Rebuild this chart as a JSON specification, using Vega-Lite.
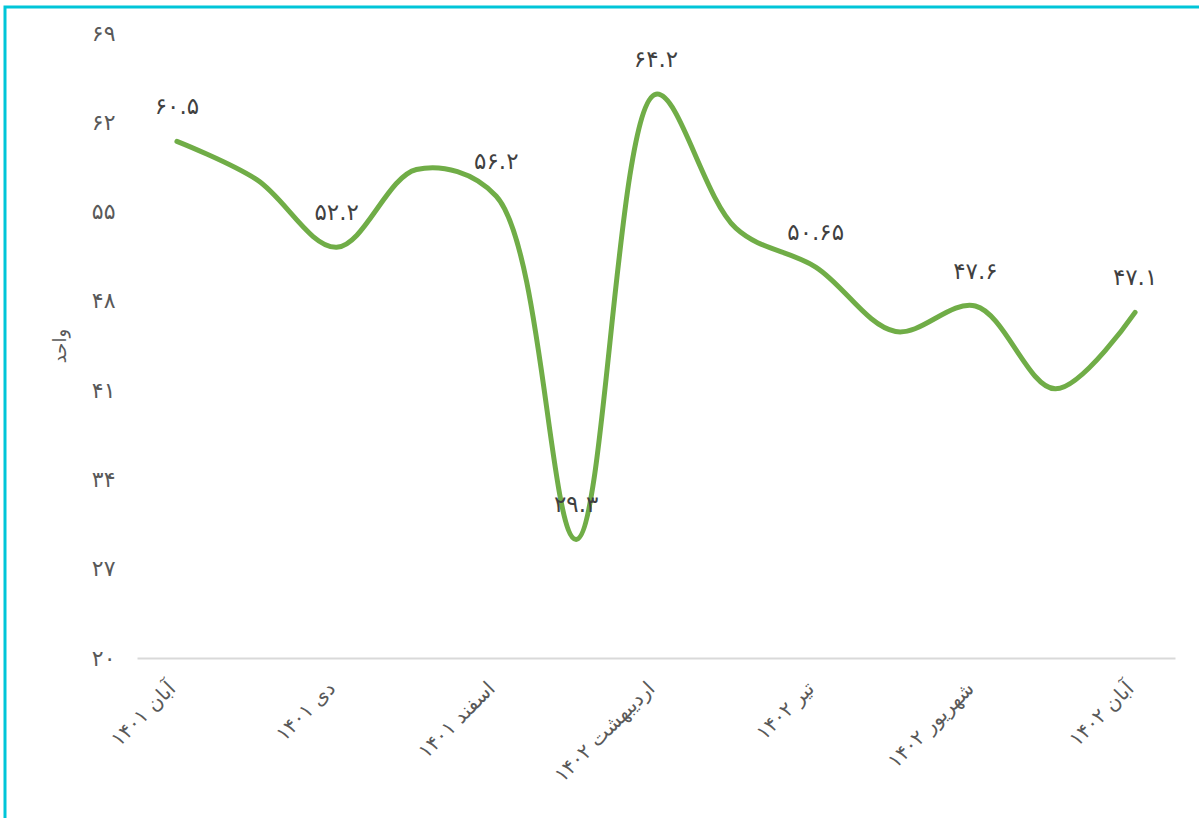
{
  "$schema": "https://vega.github.io/schema/vega-lite/v6.json",
  "width": 1200,
  "height": 820,
  "autosize": {"type": "none"},
  "padding": {"left": 5, "top": 7, "right": 0, "bottom": 0},
  "background": "white",
  "config": {
    "view": {"stroke": "#00c5d8", "strokeWidth": 3},
    "font": "DejaVu Sans"
  },
  "data": {
    "values": [
      {"month": "آبان ۱۴۰۱", "value": 60.5, "label": "۶۰.۵"},
      {"month": "آذر ۱۴۰۱", "value": 57.5, "label": null},
      {"month": "دی ۱۴۰۱", "value": 52.2, "label": "۵۲.۲"},
      {"month": "بهمن ۱۴۰۱", "value": 58.3, "label": null},
      {"month": "اسفند ۱۴۰۱", "value": 56.2, "label": "۵۶.۲"},
      {"month": "فروردین ۱۴۰۲", "value": 29.3, "label": "۲۹.۳"},
      {"month": "اردیبهشت ۱۴۰۲", "value": 64.2, "label": "۶۴.۲"},
      {"month": "خرداد ۱۴۰۲", "value": 53.7, "label": null},
      {"month": "تیر ۱۴۰۲", "value": 50.65, "label": "۵۰.۶۵"},
      {"month": "مرداد ۱۴۰۲", "value": 45.6, "label": null},
      {"month": "شهریور ۱۴۰۲", "value": 47.6, "label": "۴۷.۶"},
      {"month": "مهر ۱۴۰۲", "value": 41.1, "label": null},
      {"month": "آبان ۱۴۰۲", "value": 47.1, "label": "۴۷.۱"}
    ]
  },
  "encoding": {
    "x": {
      "field": "month",
      "type": "ordinal",
      "sort": null,
      "scale": {"type": "point", "range": [132, 1170], "padding": 0.5},
      "axis": {
        "title": null,
        "orient": "bottom",
        "offset": -169,
        "values": ["آبان ۱۴۰۱", "دی ۱۴۰۱", "اسفند ۱۴۰۱", "اردیبهشت ۱۴۰۲", "تیر ۱۴۰۲", "شهریور ۱۴۰۲", "آبان ۱۴۰۲"],
        "labelAngle": -45,
        "labelFontSize": 20,
        "labelColor": "#595959",
        "labelPadding": 20,
        "labelOffset": -12,
        "labelOverlap": false,
        "ticks": false,
        "domainColor": "#d9d9d9",
        "domainWidth": 2,
        "grid": false
      }
    },
    "y": {
      "field": "value",
      "type": "quantitative",
      "scale": {"domain": [20, 69], "range": [651, 26], "nice": false, "zero": false},
      "axis": {
        "title": "واحد",
        "titleFontSize": 18,
        "titleFontWeight": "normal",
        "titleColor": "#595959",
        "titlePadding": 22,
        "orient": "left",
        "offset": -115,
        "values": [20, 27, 34, 41, 48, 55, 62, 69],
        "labelExpr": "['۲۰','۲۷','۳۴','۴۱','۴۸','۵۵','۶۲','۶۹'][round((datum.value - 20) / 7)]",
        "labelFontSize": 22,
        "labelColor": "#595959",
        "labelPadding": 5,
        "ticks": false,
        "domain": false,
        "grid": false
      }
    }
  },
  "layer": [
    {
      "mark": {"type": "line", "color": "#70ad47", "strokeWidth": 5, "interpolate": "catmull-rom", "strokeCap": "round"}
    },
    {
      "transform": [{"filter": "datum.label != null"}],
      "mark": {"type": "text", "dy": -34, "fontSize": 23, "color": "#404040"},
      "encoding": {"text": {"field": "label"}}
    }
  ]
}
